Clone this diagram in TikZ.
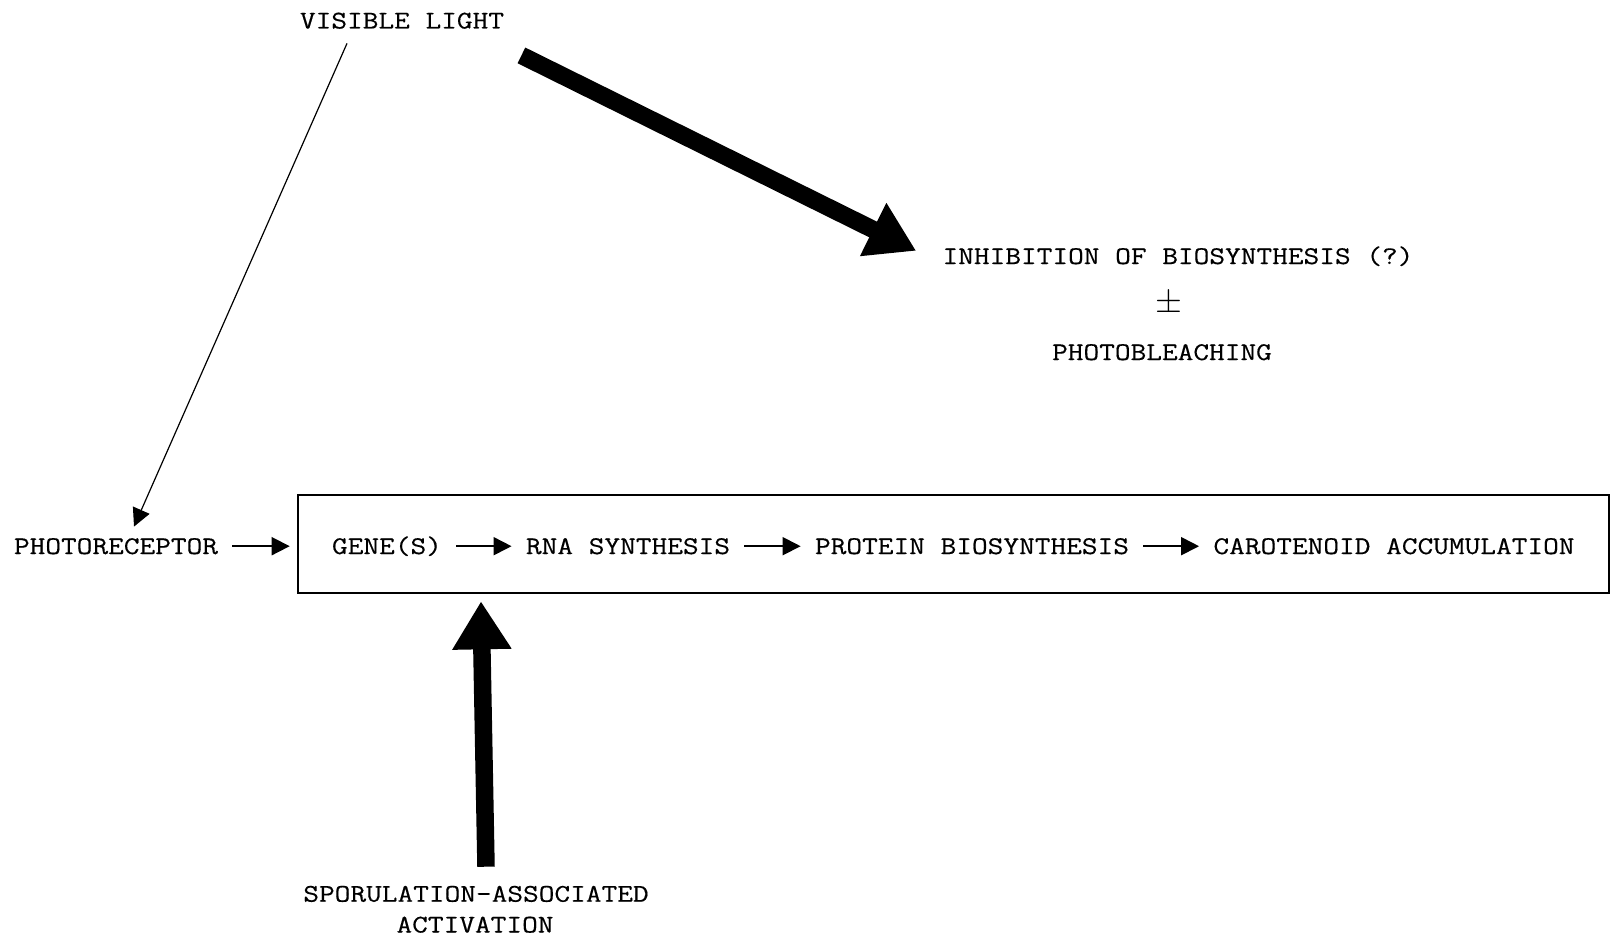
\documentclass[tikz,border=0pt]{standalone}
\usepackage{fontspec}
\setmonofont{Latin Modern Mono}[FakeStretch=1.2, FakeBold=0.4]
\usepackage{tikz}
\usetikzlibrary{arrows.meta, calc}
\tikzset{
  font=\ttfamily\fontsize{12.7}{15.5}\selectfont,
  lbl/.style={inner xsep=0pt, inner ysep=0pt, text height=7.8pt, text depth=0pt, anchor=base},
  stage/.style={lbl, inner xsep=7pt},
  stagebox/.style={draw, line width=1.3pt, inner sep=0pt, minimum width=655.5pt, minimum height=49pt},
  thinarr/.style={-{Triangle[length=9pt, width=9pt]}, line width=0.9pt},
  fatarr/.style={-{Triangle[length=24pt, width=28pt]}, line width=8.75pt}
}
\begin{document}
\begin{tikzpicture}[x=0.5pt, y=-0.5pt]
  \useasboundingbox (0,0) rectangle (1611,941);
  \node[lbl] (light) at (402,28.5) {VISIBLE LIGHT};
  \node[lbl] (inhib) at (1178,264) {INHIBITION OF BIOSYNTHESIS (?)};
  \node[lbl, font=\fontsize{17}{17}\selectfont] (pm) at (1169,313) {$\pm$};
  \node[lbl] (bleach) at (1162,360) {PHOTOBLEACHING};
  \node[stagebox] (box) at (953.5,544) {};
  \node[stage] (photo) at (116,554) {PHOTORECEPTOR};
  \node[stage] (gene) at (387,554) {GENE(S)};
  \node[stage] (rna) at (628,554) {RNA SYNTHESIS};
  \node[stage] (prot) at (972,554) {PROTEIN BIOSYNTHESIS};
  \node[stage] (carot) at (1394,554) {CAROTENOID ACCUMULATION};
  \node[lbl] (spor) at (476,901.7) {SPORULATION-ASSOCIATED};
  \node[lbl] (act) at (475,932.5) {ACTIVATION};
  \draw[thinarr] (photo.east) -- (photo.east -| box.west) [shorten >=3.5pt];
  \draw[thinarr] (gene) -- (rna);
  \draw[thinarr] (rna) -- (prot);
  \draw[thinarr] (prot) -- (carot);
  \draw[thinarr, line width=0.6pt] ([shift={(-27.5pt,-7.25pt)}]light.south) -- ([shift={(9pt,5.7pt)}]photo.north);
  \draw[fatarr] ([shift={(8.5pt,-13.25pt)}]light.south east) -- ([shift={(-13pt,2.7pt)}]inhib.west);
  \draw[fatarr] ([shift={(5pt,9.5pt)}]spor.north) -- ($(spor.north |- box.south)+(2.5pt,-3.5pt)$);
\end{tikzpicture}
\end{document}
